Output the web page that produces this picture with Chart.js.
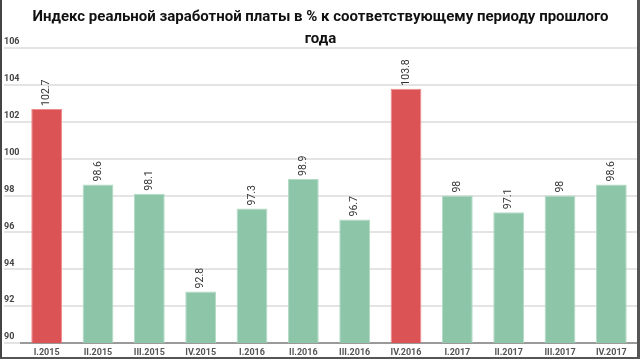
<!DOCTYPE html>
<html lang="ru">
<head>
    <meta charset="UTF-8">
    <title>Индекс реальной заработной платы</title>
    <script src="https://cdn.jsdelivr.net/npm/chart.js"></script>
    <style>
        html, body {
            margin: 0;
            padding: 0;
            background: #ffffff;
        }
        .frame {
            width: 640px;
            height: 359px;
            box-sizing: border-box;
            border-left: 2px solid #444;
            border-right: 3px solid #555;
            border-bottom: 2px solid #555;
        }
        .inner {
            position: relative;
            width: 635px;
            height: 357px;
        }
    </style>
</head>
<body>
    <div class="frame">
        <div class="inner">
            <canvas id="wageChart"></canvas>
        </div>
    </div>

    <script>
        const quarters = ['I.2015', 'II.2015', 'III.2015', 'IV.2015', 'I.2016', 'II.2016', 'III.2016', 'IV.2016', 'I.2017', 'II.2017', 'III.2017', 'IV.2017'];
        const wageIndex = [102.7, 98.6, 98.1, 92.8, 97.3, 98.9, 96.7, 103.8, 98, 97.1, 98, 98.6];
        const yTicks = [90, 92, 94, 96, 98, 100, 102, 104, 106];
        const titleLines = ['Индекс реальной заработной платы в % к соответствующему периоду прошлого', 'года'];

        const redFill = '#dc5356';
        const redEdge = '#ee8a8c';
        const greenFill = '#8dc5a9';
        const greenEdge = '#b3dbc6';

        // rotated value labels above each bar
        const valueLabels = {
            id: 'valueLabels',
            afterDatasetsDraw(chart) {
                const ctx = chart.ctx;
                const meta = chart.getDatasetMeta(0);
                ctx.save();
                ctx.fillStyle = '#333';
                ctx.font = '10.5px Roboto';
                ctx.textAlign = 'left';
                ctx.textBaseline = 'middle';
                meta.data.forEach((bar, i) => {
                    ctx.save();
                    ctx.translate(bar.x, bar.y - 3);
                    ctx.rotate(-Math.PI / 2);
                    ctx.fillText(String(wageIndex[i]), 0, 0);
                    ctx.restore();
                });
                ctx.restore();
            }
        };

        const ctx = document.getElementById('wageChart').getContext('2d');
        new Chart(ctx, {
            type: 'bar',
            data: {
                labels: quarters,
                datasets: [{
                    data: wageIndex,
                    backgroundColor: wageIndex.map(v => v > 100 ? redFill : greenFill),
                    borderColor: wageIndex.map(v => v > 100 ? redEdge : greenEdge),
                    borderWidth: 1,
                    borderSkipped: 'bottom',
                    barPercentage: 0.75,
                    categoryPercentage: 0.8
                }]
            },
            options: {
                responsive: true,
                maintainAspectRatio: false,
                animation: false,
                layout: {
                    padding: { left: 2, right: 0, top: 0, bottom: 0 }
                },
                plugins: {
                    legend: { display: false },
                    tooltip: { enabled: false },
                    title: {
                        display: true,
                        text: titleLines,
                        color: '#111',
                        font: { family: 'Roboto', size: 15, weight: 'bold', lineHeight: 1.47 },
                        padding: { top: 6, bottom: -2 }
                    }
                },
                scales: {
                    x: {
                        grid: { display: false, drawTicks: false },
                        border: { display: true, color: '#9a9a9a', width: 2 },
                        ticks: {
                            color: '#555',
                            font: { family: 'Roboto', size: 9, weight: 'bold' },
                            padding: 4,
                            maxRotation: 0,
                            autoSkip: false
                        },
                        afterFit(scale) { scale.height = 14; }
                    },
                    y: {
                        min: 90,
                        max: 106,
                        afterBuildTicks(scale) {
                            scale.ticks = yTicks.map(v => ({ value: v }));
                        },
                        grid: {
                            color: '#e4e4e4',
                            lineWidth: 2,
                            drawTicks: true,
                            tickLength: 17
                        },
                        border: { display: false },
                        ticks: {
                            color: '#444',
                            font: { family: 'Roboto', size: 9, weight: 'bold' },
                            crossAlign: 'far',
                            padding: 0,
                            labelOffset: -6
                        },
                        afterFit(scale) { scale.width = 17; }
                    }
                }
            },
            plugins: [valueLabels]
        });
    </script>
</body>
</html>
